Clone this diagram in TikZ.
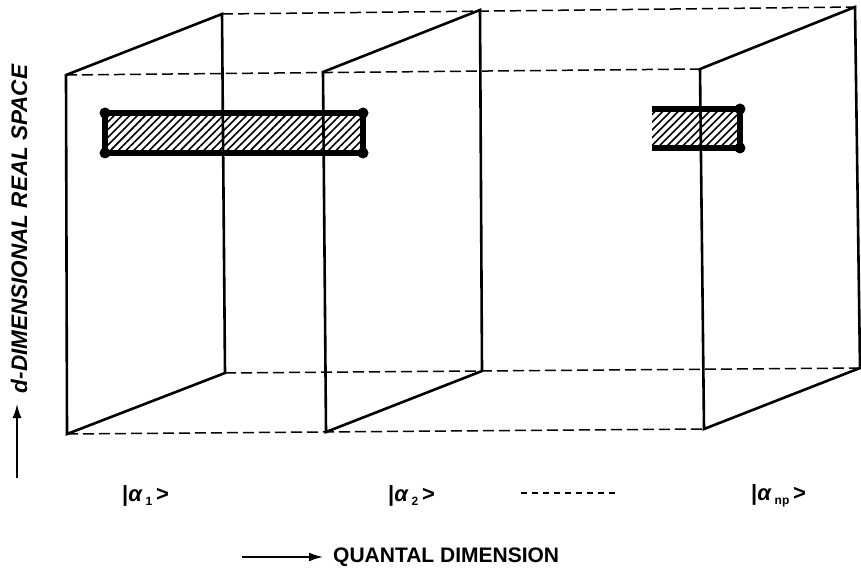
\documentclass[tikz,border=0pt]{standalone}
\usepackage{fontspec}
\setmainfont{Liberation Sans}
\usetikzlibrary{patterns.meta,arrows.meta}
\newcommand{\sub}[1]{\raisebox{-4pt}{\fontsize{12}{13}\selectfont #1}}
\begin{document}
\begin{tikzpicture}[x=1pt,y=-1pt,
  panel/.style={line width=2.6pt, line join=miter},
  guide/.style={line width=1.5pt, dash pattern=on 11pt off 5pt},
  band/.style={line width=6pt},
  hatch/.style={pattern={Lines[angle=45,distance=5.5pt,line width=1.6pt]}},
  dot/.style={circle, fill=black, inner sep=0pt, minimum size=11pt},
  lbl/.style={font=\fontsize{22}{26}\selectfont\bfseries, inner sep=0pt, anchor=west},
  arr/.style={-{Latex[length=14pt,width=9pt]}, line width=1.8pt}]
\useasboundingbox (0,0) rectangle (861,572);
% panel corners
\coordinate (A1) at (66,75);  \coordinate (B1) at (67,434);
\coordinate (C1) at (222,14); \coordinate (D1) at (225,373);
\coordinate (A2) at (323,72); \coordinate (B2) at (326,432);
\coordinate (C2) at (480,10); \coordinate (D2) at (482,371);
\coordinate (A3) at (700,69); \coordinate (B3) at (704,429);
\coordinate (C3) at (855,7);  \coordinate (D3) at (860,368);
% hatched bands
\fill[hatch] (105,113) rectangle (363,153);
\fill[hatch] (652,109) rectangle (740,148);
% dashed guides
\draw[guide] (A1) -- (A3);
\draw[guide] (C1) -- (C3);
\draw[guide] (B1) -- (B3);
\draw[guide] (D1) -- (D3);
% panels
\draw[panel] (A1) -- (C1) -- (D1) -- (B1) -- cycle;
\draw[panel] (A2) -- (C2) -- (D2) -- (B2) -- cycle;
\draw[panel] (A3) -- (C3) -- (D3) -- (B3) -- cycle;
% band outlines
\node[dot] (r1a) at (105,113) {};
\node[dot] (r1b) at (363,113) {};
\node[dot] (r1c) at (363,153) {};
\node[dot] (r1d) at (105,153) {};
\draw[band] (r1a.center) -- (r1b.center) -- (r1c.center) -- (r1d.center) -- cycle;
\node[dot] (r3b) at (740,109) {};
\node[dot] (r3c) at (740,148) {};
\coordinate (r3a) at (652,109);
\coordinate (r3d) at (652,148);
\draw[band] (r3a) -- (r3b.center) -- (r3c.center) -- (r3d);
% labels
\node[lbl] (k1) at (122,496) {|{\itshape α}\,\sub{1}\,>};
\node[lbl] (k2) at (388,496) {|{\itshape α}\,\sub{2}\,>};
\node[lbl] (kn) at (751,496) {|{\itshape α}\,\sub{np}\,>};
\coordinate (dd1) at (521,493);
\coordinate (dd2) at (616,493);
\draw[line width=1.2pt, dash pattern=on 6pt off 5pt] (dd1) -- (dd2);
% axes
\node[rotate=90, inner sep=0pt, font=\fontsize{22.5}{26}\selectfont\bfseries\itshape] (ylab) at (19,229) {d-DIMENSIONAL REAL SPACE};
\coordinate (ya0) at (17,478);
\coordinate (ya1) at (17,404);
\draw[arr] (ya0) -- (ya1);
\node[anchor=west, inner sep=0pt, font=\fontsize{21}{24}\selectfont\bfseries] (xlab) at (333,557) {QUANTAL DIMENSION};
\coordinate (xa0) at (242,557);
\coordinate (xa1) at (323,557);
\draw[arr] (xa0) -- (xa1);
\end{tikzpicture}
\end{document}
